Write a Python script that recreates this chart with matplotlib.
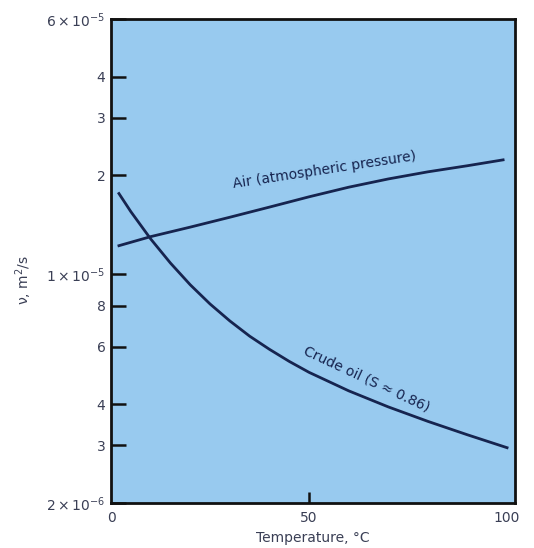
import matplotlib
matplotlib.use("Agg")
import matplotlib.pyplot as plt
from matplotlib.ticker import FixedLocator, NullLocator

# Data
air_temp = [2, 10, 20, 30, 40, 50, 60, 70, 80, 90, 99]
air_nu = [1.22e-5, 1.30e-5, 1.39e-5, 1.49e-5, 1.60e-5, 1.72e-5, 1.84e-5, 1.95e-5, 2.05e-5, 2.14e-5, 2.23e-5]

oil_temp = [2, 5, 10, 15, 20, 25, 30, 35, 40, 45, 50, 60, 70, 80, 90, 100]
oil_nu = [1.76e-5, 1.55e-5, 1.28e-5, 1.08e-5, 9.27e-6, 8.1e-6, 7.19e-6, 6.46e-6, 5.89e-6,
          5.41e-6, 5.01e-6, 4.40e-6, 3.93e-6, 3.55e-6, 3.23e-6, 2.95e-6]

y_ticks = [2e-6, 3e-6, 4e-6, 6e-6, 8e-6, 1e-5, 2e-5, 3e-5, 4e-5, 6e-5]
y_tick_labels = [r"$2\times10^{-6}$", "3", "4", "6", "8", r"$1\times10^{-5}$", "2", "3", "4",
                 r"$6\times10^{-5}$"]
x_ticks = [0, 50, 100]
x_tick_labels = ["0", "50", "100"]

air_label = "Air (atmospheric pressure)"
oil_label = "Crude oil (S \u2248 0.86)"

bg = "#98caef"
ink = "#16244f"
txt = "#3a3f55"

fig = plt.figure(figsize=(5.34, 5.48), dpi=100)
ax = fig.add_axes([0.2079, 0.0821, 0.7565, 0.8832])
ax.set_facecolor(bg)

ax.plot(air_temp, air_nu, color=ink, lw=2.0)
ax.plot(oil_temp, oil_nu, color=ink, lw=2.0)

ax.set_yscale("log")
ax.set_xlim(0, 102)
ax.set_ylim(2e-6, 6e-5)

ax.yaxis.set_major_locator(FixedLocator(y_ticks))
ax.yaxis.set_minor_locator(NullLocator())
ax.set_yticklabels(y_tick_labels)
ax.set_xticks(x_ticks)
ax.set_xticklabels(x_tick_labels)

ax.tick_params(axis="y", direction="in", length=11, width=1.8, color="#111111",
               labelsize=10, labelcolor=txt, pad=4)
ax.tick_params(axis="x", direction="in", length=8, width=1.8, color="#111111",
               labelsize=10, labelcolor=txt, pad=6)
xt = ax.xaxis.get_major_ticks()
xt[0].tick1line.set_visible(False)
xt[2].tick1line.set_visible(False)

for s in ax.spines.values():
    s.set_linewidth(2.0)
    s.set_color("#111111")

ax.set_xlabel("Temperature, \u00b0C", fontsize=10, color=txt, labelpad=4)
ax.set_ylabel("\u03bd, m$^2$/s", fontsize=10, color=txt, labelpad=2)
ax.yaxis.set_label_coords(-0.19, 0.46)

ax.text(54, 2.07e-5, air_label, rotation=8.7, fontsize=10, color=ink,
        ha="center", va="center", rotation_mode="anchor")
ax.text(64.6, 4.79e-6, oil_label, rotation=-25, fontsize=10, color=ink,
        ha="center", va="center", rotation_mode="anchor")

fig.savefig("out.png", dpi=100, facecolor="white")
